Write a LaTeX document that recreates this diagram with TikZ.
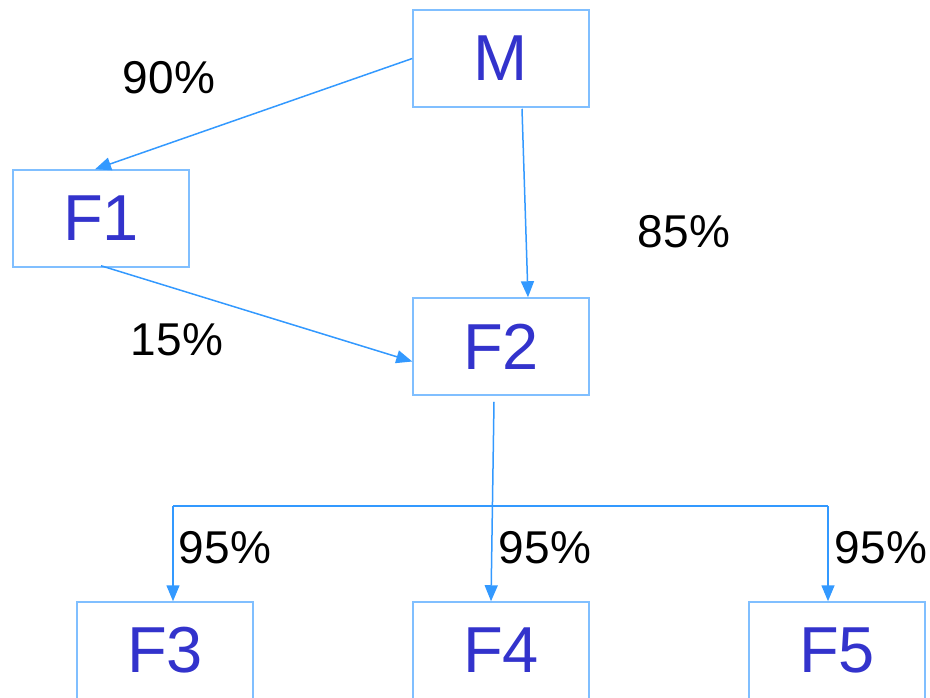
\documentclass[tikz,border=0pt]{standalone}
\usepackage{fontspec}
\setmainfont{Liberation Sans}
\usetikzlibrary{arrows.meta,calc}
\definecolor{boxline}{HTML}{80BFFF}
\definecolor{flowline}{HTML}{3399FF}
\definecolor{boxtext}{HTML}{3333CC}
\tikzset{
  unit/.style={draw=boxline, line width=1.5pt, minimum width=176pt, minimum height=97pt,
    inner sep=0pt, text=boxtext, font=\fontsize{65}{78}\selectfont},
  flow/.style={draw=flowline, line width=1.5pt},
  flowarrow/.style={flow, -{Triangle[length=16pt,width=13pt]}},
  pct/.style={text=black, inner sep=0pt, font=\fontsize{46}{55}\selectfont}
}
\begin{document}
\begin{tikzpicture}[x=1pt,y=-1pt]
  \useasboundingbox (0,0) rectangle (930,697);
  \clip (0,0) rectangle (930,697);

  % entities
  \node[unit] (M)  at (501,58.5)  {M};
  \node[unit] (F1) at (101,218.5) {F1};
  \node[unit] (F2) at (501,346.5) {F2};
  \node[unit] (F3) at (165,650.5) {F3};
  \node[unit] (F4) at (501,650.5) {F4};
  \node[unit] (F5) at (837,650.5) {F5};

  % ownership links
  \draw[flowarrow] (M.west) -- ($(F1.north)+(-6,0)$);
  \draw[flowarrow] ($(M.south)+(21,1)$) -- ($(F2.north)+(27,0)$);
  \draw[flowarrow] ($(F1.south)+(0,-2)$) -- ($(F2.west)+(0,15)$);

  % distribution bar below F2
  \coordinate (bl) at (173,506);
  \coordinate (br) at (828,506);
  \draw[flow] (bl) -- (br);
  \draw[flowarrow] ($(F2.south)+(-7,6)$) -- ($(F4.north)+(-10,0)$);
  \draw[flowarrow] (bl) -- (F3.north -| bl);
  \draw[flowarrow] (br) -- (F5.north -| br);

  % percentages
  \node[pct] (p1) at (169,78)  {90\%};
  \node[pct] (p2) at (684,232) {85\%};
  \node[pct] (p3) at (177,340) {15\%};
  \node[pct] (p4) at (225,548) {95\%};
  \node[pct] (p5) at (545,548) {95\%};
  \node[pct] (p6) at (881,548) {95\%};
\end{tikzpicture}
\end{document}
